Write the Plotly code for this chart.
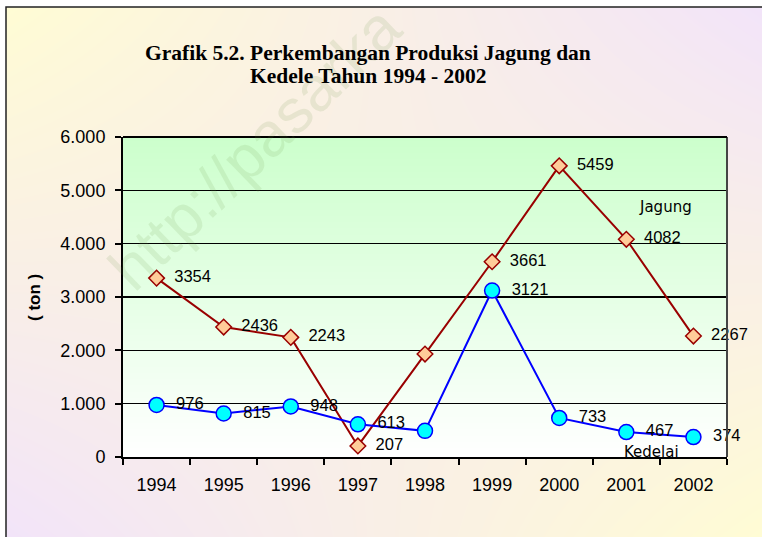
import plotly.graph_objects as go

# ---------------- data ----------------
years = ["1994", "1995", "1996", "1997", "1998", "1999", "2000", "2001", "2002"]
jagung = [3354, 2436, 2243, 207, 1930, 3661, 5459, 4082, 2267]
kedelai = [976, 815, 948, 613, 490, 3121, 733, 467, 374]
show_label = [True, True, True, True, False, True, True, True, True]
y_ticks = [0, 1000, 2000, 3000, 4000, 5000, 6000]
title_lines = ["Grafik 5.2. Perkembangan Produksi Jagung dan", "Kedele Tahun 1994 - 2002"]

W, H = 762, 537
idx = list(range(len(years)))

# plot area in pixels
PL, PR, PT, PB = 123, 727, 137, 457
dom_x = [PL / W, PR / W]
dom_y = [1 - PB / H, 1 - PT / H]

fig = go.Figure()

fig.add_trace(go.Heatmap(
    x=[0, 1], y=[0, 1], z=[[1, 0], [0, 1]], zsmooth="best",
    colorscale=[[0, "#FFFCD4"], [0.5, "#F9EFE6"], [1, "#F2E4F9"]],
    showscale=False, hoverinfo="skip", xaxis="x", yaxis="y"))

fig.add_trace(go.Heatmap(
    x=[0, 1], y=[0, 1], z=[[0, 0], [1, 1]], zsmooth="best",
    colorscale=[[0, "#FFFFFF"], [1, "#CCFFCC"]],
    showscale=False, hoverinfo="skip", xaxis="x2", yaxis="y2"))

pad = "\u00a0\u00a0"
jag_text = [pad + f"{v}" if s else "" for v, s in zip(jagung, show_label)]
ked_text = [pad + f"{v}" if s else "" for v, s in zip(kedelai, show_label)]

fig.add_trace(go.Scatter(
    x=idx, y=jagung, mode="lines+markers+text", name="Jagung",
    text=jag_text, textposition="middle right",
    textfont=dict(family="Arial, Liberation Sans", size=16.5, color="black"),
    line=dict(color="#990000", width=2),
    marker=dict(symbol="diamond", size=12, color="#FFCC99",
                line=dict(color="#990000", width=1.5)),
    xaxis="x3", yaxis="y3", cliponaxis=False))

fig.add_trace(go.Scatter(
    x=idx, y=kedelai, mode="lines+markers+text", name="Kedelai",
    text=ked_text, textposition="middle right",
    textfont=dict(family="Arial, Liberation Sans", size=16.5, color="black"),
    line=dict(color="#0000FF", width=2),
    marker=dict(symbol="circle", size=15, color="#00FFFF",
                line=dict(color="#0000FF", width=1.5)),
    xaxis="x3", yaxis="y3", cliponaxis=False))

hidden = dict(visible=False, fixedrange=True, showgrid=False, zeroline=False)

fig.update_layout(
    width=W, height=H,
    margin=dict(l=0, r=0, t=0, b=0, autoexpand=False),
    paper_bgcolor="white",
    plot_bgcolor="rgba(0,0,0,0)",
    separators=",.",
    showlegend=False,
    xaxis=dict(domain=[6 / W, 1], range=[0, 1], anchor="y", **hidden),
    yaxis=dict(domain=[0, 1 - 7 / H], range=[0, 1], anchor="x", **hidden),
    xaxis2=dict(domain=dom_x, range=[0, 1], anchor="y2", **hidden),
    yaxis2=dict(domain=dom_y, range=[0, 1], anchor="x2", **hidden),
    xaxis3=dict(
        domain=dom_x, anchor="y3", range=[-0.5, len(years) - 0.5],
        tickmode="array", tickvals=idx, ticktext=years, ticks="",
        ticklabelstandoff=10, automargin=False,
        tickfont=dict(family="Arial, Liberation Sans", size=18, color="black"),
        showline=True, linecolor="black", linewidth=2,
        showgrid=False, zeroline=False,
        minor=dict(tickmode="linear", tick0=-0.5, dtick=1, ticks="outside",
                   ticklen=6, tickwidth=2, tickcolor="black", showgrid=False),
    ),
    yaxis3=dict(
        domain=dom_y, anchor="x3", range=[0, 6000],
        tickmode="array", tickvals=y_ticks, tickformat=",d",
        ticks="outside", ticklen=6, tickwidth=2, tickcolor="black",
        ticklabelstandoff=6, automargin=False,
        tickfont=dict(family="Arial, Liberation Sans", size=18, color="black"),
        showline=True, linecolor="black", linewidth=2,
        showgrid=True, gridcolor="black", gridwidth=1.5, zeroline=False,
    ),
)

fig.add_shape(type="rect", xref="paper", yref="paper",
              x0=6 / W, x1=1.02, y0=-0.02, y1=1 - 7 / H,
              line=dict(color="#222222", width=1.5), fillcolor="rgba(0,0,0,0)",
              layer="above")
fig.add_shape(type="line", xref="x3 domain", yref="y3 domain",
              x0=1, x1=1, y0=0, y1=1, line=dict(color="#444444", width=2))
fig.add_shape(type="line", xref="x3 domain", yref="y3 domain",
              x0=0, x1=1, y0=1, y1=1, line=dict(color="black", width=2))

fig.add_annotation(text="http://pasarka", xref="paper", yref="paper",
                   x=255 / W, y=1 - 148 / H, showarrow=False, textangle=-44,
                   xanchor="center", yanchor="middle",
                   font=dict(family="Arial, Liberation Sans", size=62,
                             color="rgba(110,150,70,0.13)"))

for i, line in enumerate(title_lines):
    fig.add_annotation(text=f"<b>{line}</b>", xref="paper", yref="paper",
                       x=368 / W, y=1 - (53 + 23 * i) / H, showarrow=False,
                       xanchor="center", yanchor="middle",
                       font=dict(family="Liberation Serif, Times New Roman", size=21.5,
                                 color="black"))

fig.add_annotation(text="<b>( ton )</b>", xref="paper", yref="paper",
                   x=34 / W, y=1 - 298 / H, showarrow=False, textangle=-90,
                   xanchor="center", yanchor="middle",
                   font=dict(family="Arial, Liberation Sans", size=17, color="black"))

fig.add_annotation(text="Jagung", xref="paper", yref="paper",
                   x=665 / W, y=1 - 207 / H, showarrow=False,
                   xanchor="center", yanchor="middle",
                   font=dict(family="Comic Sans MS, DejaVu Sans", size=15, color="black"))
fig.add_annotation(text="Kedelai", xref="paper", yref="paper",
                   x=651 / W, y=1 - 452 / H, showarrow=False,
                   xanchor="center", yanchor="middle",
                   font=dict(family="Comic Sans MS, DejaVu Sans", size=15, color="black"))

# remove the browser's default page margin so the figure sits at (0, 0)
post = "document.body.style.margin='0';document.body.style.padding='0';"

fig.write_html("out.html", post_script=post,
               config={"displayModeBar": False, "staticPlot": True})
